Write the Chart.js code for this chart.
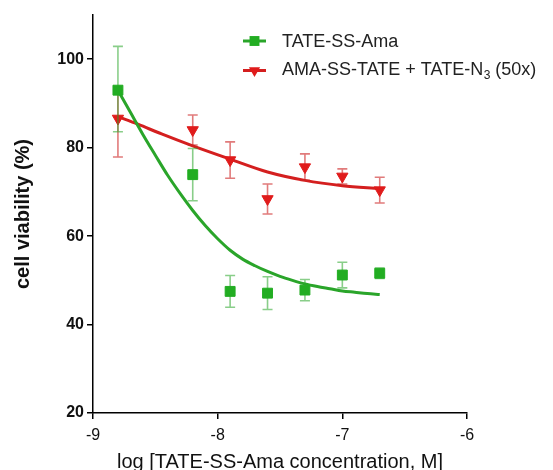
<!DOCTYPE html>
<html>
<head>
<meta charset="utf-8">
<script src="https://cdn.jsdelivr.net/npm/chart.js@4.4.1/dist/chart.umd.min.js"></script>
<style>
  html, body { margin: 0; padding: 0; background: #fff; overflow: hidden; }
  #wrap { position: relative; width: 553px; height: 470px; }
</style>
</head>
<body>
<div id="wrap"><canvas id="c" width="553" height="470"></canvas></div>
<script>
// Measured doses (log M) and cell viability (%), mean with upper/lower whisker lengths
const logDose = [-8.8, -8.2, -7.9, -7.6, -7.3, -7.0, -6.7];
const tateSsAma = [93.0, 73.9, 47.5, 47.1, 47.8, 51.2, 51.6];
const tateSsAmaUp = [9.9, 5.9, 3.6, 3.7, 2.4, 2.9, 1.2];
const tateSsAmaDown = [9.4, 5.9, 3.6, 3.7, 2.4, 2.9, 1.2];
const amaBlocked = [86.6, 84.0, 77.2, 68.4, 75.6, 73.5, 70.4];
const amaBlockedUp = [6.5, 3.4, 4.1, 3.4, 3.0, 1.7, 2.9];
const amaBlockedDown = [8.7, 3.4, 4.1, 3.4, 3.0, 1.7, 2.9];

// Fitted dose-response curves
const fitGreenX = [-8.8, -8.7, -8.6, -8.5, -8.4, -8.3, -8.2, -8.1, -8.0, -7.9, -7.8, -7.7, -7.6, -7.5, -7.4, -7.3, -7.2, -7.1, -7.0, -6.9, -6.8, -6.7];
const fitGreenY = [93.0, 88.0, 83.0, 78.3, 73.7, 69.6, 65.8, 62.4, 59.4, 56.8, 54.8, 53.3, 52.0, 50.9, 50.0, 49.2, 48.6, 48.1, 47.6, 47.3, 47.0, 46.8];
const fitRedX = [-8.8, -8.64, -8.45, -8.2, -7.9, -7.6, -7.3, -7.0, -6.7];
const fitRedY = [87.0, 85.3, 83.1, 80.4, 77.4, 74.5, 72.6, 71.4, 70.7];

// Axis ticks
const xTicks = [-9, -8, -7, -6];
const yTicks = [20, 40, 60, 80, 100];

const seriesNames = ['TATE-SS-Ama', 'AMA-SS-TATE + TATE-N', '3', ' (50x)'];

const GREEN = '#22ad22';
const GREEN_LINE = '#2aa52a';
const GREEN_BAR = 'rgba(40,165,40,0.55)';
const RED = '#e01b1b';
const RED_LINE = '#d41f1f';
const RED_BAR = 'rgba(205,35,35,0.6)';
const FONT = '"Liberation Sans", Arial, Helvetica, sans-serif';

const toPts = (xs, ys) => xs.map((x, i) => ({ x: x, y: ys[i] }));

// Draws each point's whiskers just before that dataset's markers
const errorBars = {
  id: 'errorBars',
  beforeDatasetDraw(chart, args) {
    const ds = chart.data.datasets[args.index];
    if (!ds.errUp) return;
    const { ctx, scales: { x, y } } = chart;
    ctx.save();
    ctx.strokeStyle = ds.barColor;
    ctx.lineWidth = 1.6;
    ds.data.forEach((p, i) => {
      const px = x.getPixelForValue(p.x);
      const top = y.getPixelForValue(p.y + ds.errUp[i]);
      const bot = y.getPixelForValue(p.y - ds.errDown[i]);
      ctx.beginPath();
      ctx.moveTo(px, top); ctx.lineTo(px, bot);
      ctx.moveTo(px - 5, top); ctx.lineTo(px + 5, top);
      ctx.moveTo(px - 5, bot); ctx.lineTo(px + 5, bot);
      ctx.stroke();
    });
    ctx.restore();
  }
};

// Legend inside the plot, upper right
const insideLegend = {
  id: 'insideLegend',
  afterDraw(chart) {
    const { ctx, chartArea: ca } = chart;
    const x0 = ca.left + 150, x1 = ca.left + 173, xm = (x0 + x1) / 2, tx = ca.left + 189;
    const rows = [
      { y: ca.top + 26, line: GREEN_LINE, fill: GREEN, style: 'rect', radius: 7, rotation: 0 },
      { y: ca.top + 55.5, line: RED_LINE, fill: RED, style: 'triangle', radius: 6.5, rotation: 180 }
    ];
    ctx.save();
    rows.forEach(r => {
      ctx.strokeStyle = r.line;
      ctx.lineWidth = 3;
      ctx.beginPath(); ctx.moveTo(x0, r.y); ctx.lineTo(x1, r.y); ctx.stroke();
      ctx.fillStyle = r.fill;
      ctx.strokeStyle = r.fill;
      ctx.lineWidth = 1;
      Chart.helpers.drawPoint(ctx, { pointStyle: r.style, radius: r.radius, rotation: r.rotation }, xm, r.y);
    });
    ctx.fillStyle = '#222';
    ctx.textBaseline = 'middle';
    ctx.textAlign = 'left';
    ctx.font = '18px ' + FONT;
    ctx.fillText(seriesNames[0], tx, rows[0].y + 1);
    let cx = tx;
    ctx.fillText(seriesNames[1], cx, rows[1].y);
    cx += ctx.measureText(seriesNames[1]).width;
    ctx.font = '12px ' + FONT;
    ctx.fillText(seriesNames[2], cx + 0.5, rows[1].y + 5);
    cx += ctx.measureText(seriesNames[2]).width + 0.5;
    ctx.font = '18px ' + FONT;
    ctx.fillText(seriesNames[3], cx, rows[1].y);
    ctx.restore();
  }
};

new Chart(document.getElementById('c'), {
  type: 'scatter',
  data: {
    datasets: [
      {
        label: seriesNames[0],
        data: toPts(logDose, tateSsAma),
        errUp: tateSsAmaUp,
        errDown: tateSsAmaDown,
        barColor: GREEN_BAR,
        pointStyle: 'rect',
        pointRadius: 7,
        backgroundColor: GREEN,
        borderColor: GREEN,
        borderWidth: 1,
        showLine: false,
        order: 0
      },
      {
        label: 'fit1',
        data: toPts(fitGreenX, fitGreenY),
        showLine: true,
        pointRadius: 0,
        borderColor: GREEN_LINE,
        borderWidth: 3,
        cubicInterpolationMode: 'monotone',
        fill: false,
        order: 1
      },
      {
        label: 'AMA-SS-TATE + TATE-N3 (50x)',
        data: toPts(logDose, amaBlocked),
        errUp: amaBlockedUp,
        errDown: amaBlockedDown,
        barColor: RED_BAR,
        pointStyle: 'triangle',
        rotation: 180,
        pointRadius: 6.5,
        backgroundColor: RED,
        borderColor: RED,
        borderWidth: 1,
        showLine: false,
        order: 2
      },
      {
        label: 'fit2',
        data: toPts(fitRedX, fitRedY),
        showLine: true,
        pointRadius: 0,
        borderColor: RED_LINE,
        borderWidth: 3,
        cubicInterpolationMode: 'monotone',
        fill: false,
        order: 3
      }
    ]
  },
  options: {
    responsive: false,
    animation: false,
    devicePixelRatio: 1,
    layout: { padding: { left: 0, top: 15, right: 86, bottom: 0 } },
    plugins: { legend: { display: false }, tooltip: { enabled: false } },
    scales: {
      x: {
        type: 'linear',
        min: -9,
        max: -6,
        afterBuildTicks: s => { s.ticks = xTicks.map(v => ({ value: v })); },
        afterFit: s => { s.height = 57; },
        ticks: { font: { family: FONT, size: 16 }, color: '#111', padding: 7, callback: v => String(v) },
        grid: { drawOnChartArea: false, drawTicks: true, tickLength: 6, color: '#000', lineWidth: 1.5 },
        border: { display: true, color: '#000', width: 1.5 },
        title: {
          display: true,
          text: 'log [TATE-SS-Ama concentration, M]',
          font: { family: FONT, size: 20, lineHeight: 0.8 },
          color: '#111',
          padding: 0
        }
      },
      y: {
        type: 'linear',
        min: 20,
        max: 110,
        afterBuildTicks: s => { s.ticks = yTicks.map(v => ({ value: v })); },
        afterFit: s => { s.width = 93; },
        ticks: { font: { family: FONT, size: 16, weight: 'bold' }, color: '#111', padding: 3 },
        grid: { drawOnChartArea: false, drawTicks: true, tickLength: 6, color: '#000', lineWidth: 1.5 },
        border: { display: true, color: '#000', width: 1.5 },
        title: {
          display: true,
          text: 'cell viability (%)',
          font: { family: FONT, size: 20, weight: 'bold' },
          color: '#111',
          padding: { top: 11, bottom: 0 }
        }
      }
    }
  },
  plugins: [errorBars, insideLegend]
});
</script>
</body>
</html>
